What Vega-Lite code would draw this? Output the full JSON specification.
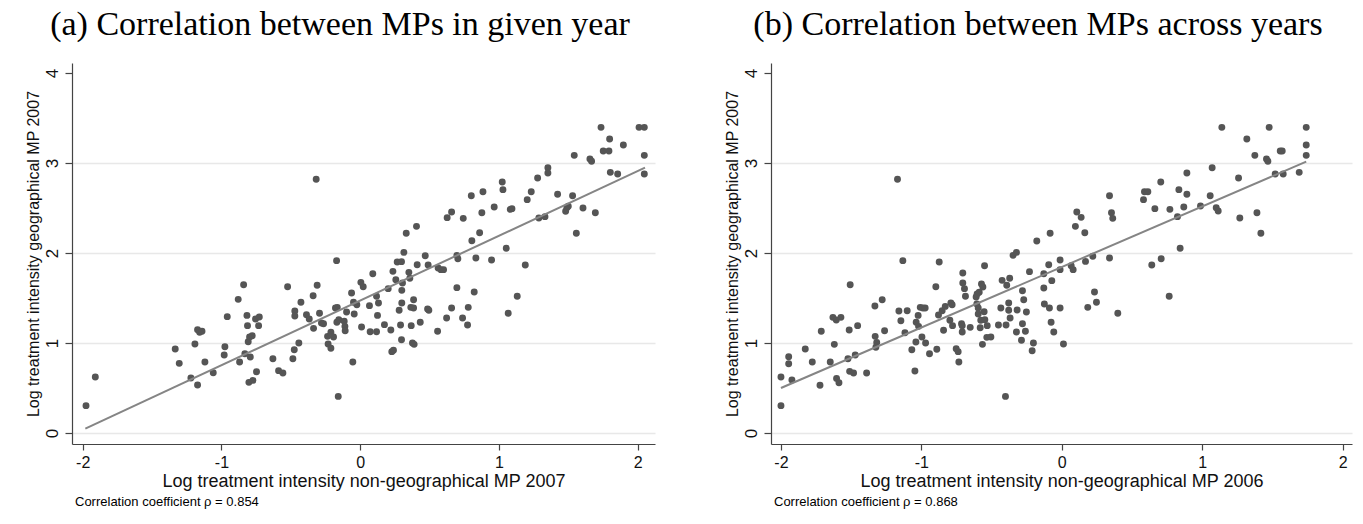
{
  "$schema": "https://vega.github.io/schema/vega-lite/v6.json",
  "background": "white",
  "padding": {"left": 25, "top": 8, "right": 5, "bottom": 5},
  "spacing": 69,
  "config": {
    "view": {"stroke": null},
    "axis": {
      "labelFont": "Liberation Sans", "titleFont": "Liberation Sans",
      "titleFontWeight": "normal",
      "labelColor": "#111", "titleColor": "#111",
      "domainColor": "#444", "tickColor": "#444", "domainWidth": 1.2, "tickWidth": 1.2
    },
    "axisX": {"grid": false, "tickSize": 6, "labelPadding": 4, "titlePadding": 2, "labelFontSize": 16, "titleFontSize": 18},
    "axisY": {"grid": true, "gridColor": "#e8e8e8", "gridWidth": 1.5, "tickSize": 7, "labelAngle": 270, "labelAlign": "center", "labelBaseline": "bottom", "labelPadding": 4, "titlePadding": 2, "labelFontSize": 17, "titleFontSize": 16}
  },
  "hconcat": [
    {
      "title": {"text": "(a) Correlation between MPs in given year", "font": "Liberation Serif", "fontSize": 34, "fontWeight": "normal", "color": "#000", "anchor": "middle", "frame": "bounds", "offset": 21},
      "vconcat": [
        {
          "width": 583, "height": 381,
          "title": {"text": "Correlation coefficient ρ = 0.854", "orient": "bottom", "anchor": "start", "frame": "group", "font": "Liberation Sans", "fontSize": 13, "fontWeight": "normal", "color": "#000", "offset": 6, "dx": 3},
          "layer": [
            {
              "data": {"name": "a"},
              "mark": {"type": "circle", "size": 48, "color": "#555555", "opacity": 1},
              "encoding": {
                "x": {"field": "x", "type": "quantitative", "scale": {"domain": [-2.077, 2.125], "nice": false, "zero": false}, "axis": {"values": [-2, -1, 0, 1, 2], "labelExpr": "'' + datum.value", "title": "Log treatment intensity non-geographical MP 2007"}},
                "y": {"field": "y", "type": "quantitative", "scale": {"domain": [-0.122, 4.111], "nice": false, "zero": false}, "axis": {"values": [0, 1, 2, 3, 4], "labelExpr": "'' + datum.value", "gridOpacity": {"condition": {"test": "datum.value == 4", "value": 0}, "value": 1}, "title": "Log treatment intensity geographical MP 2007"}}
              }
            },
            {
              "data": {"name": "fitA"},
              "mark": {"type": "line", "color": "#858585", "strokeWidth": 2},
              "encoding": {"x": {"field": "x", "type": "quantitative"}, "y": {"field": "y", "type": "quantitative"}}
            }
          ]
        }
      ]
    },
    {
      "title": {"text": "(b) Correlation between MPs across years", "font": "Liberation Serif", "fontSize": 34, "fontWeight": "normal", "color": "#000", "anchor": "middle", "frame": "bounds", "offset": 21},
      "vconcat": [
        {
          "width": 581, "height": 381,
          "title": {"text": "Correlation coefficient ρ = 0.868", "orient": "bottom", "anchor": "start", "frame": "group", "font": "Liberation Sans", "fontSize": 13, "fontWeight": "normal", "color": "#000", "offset": 6, "dx": 3},
          "layer": [
            {
              "data": {"name": "b"},
              "mark": {"type": "circle", "size": 48, "color": "#555555", "opacity": 1},
              "encoding": {
                "x": {"field": "x", "type": "quantitative", "scale": {"domain": [-2.071, 2.067], "nice": false, "zero": false}, "axis": {"values": [-2, -1, 0, 1, 2], "labelExpr": "'' + datum.value", "title": "Log treatment intensity non-geographical MP 2006"}},
                "y": {"field": "y", "type": "quantitative", "scale": {"domain": [-0.122, 4.111], "nice": false, "zero": false}, "axis": {"values": [0, 1, 2, 3, 4], "labelExpr": "'' + datum.value", "gridOpacity": {"condition": {"test": "datum.value == 4", "value": 0}, "value": 1}, "title": "Log treatment intensity geographical MP 2007"}}
              }
            },
            {
              "data": {"name": "fitB"},
              "mark": {"type": "line", "color": "#858585", "strokeWidth": 2},
              "encoding": {"x": {"field": "x", "type": "quantitative"}, "y": {"field": "y", "type": "quantitative"}}
            }
          ]
        }
      ]
    }
  ],
  "datasets": {
    "fitA": [{"x": -1.981, "y": 0.048}, {"x": 2.053, "y": 2.948}],
    "fitB": [{"x": -2.0, "y": 0.5}, {"x": 1.741, "y": 3.015}],
    "a": [
      {"x": -1.976, "y": 0.304}, {"x": -1.909, "y": 0.622}, {"x": -1.333, "y": 0.933}, {"x": -1.304, "y": 0.774}, {"x": -1.22, "y": 0.611}, {"x": -1.191, "y": 0.989}, {"x": -1.172, "y": 0.533}, {"x": -1.172, "y": 1.148}, {"x": -1.157, "y": 1.119}, {"x": -1.14, "y": 1.13}, {"x": -1.119, "y": 0.789}, {"x": -1.059, "y": 0.67}, {"x": -0.98, "y": 0.867}, {"x": -0.975, "y": 0.959}, {"x": -0.958, "y": 1.293}, {"x": -0.879, "y": 1.485}, {"x": -0.869, "y": 0.789}, {"x": -0.84, "y": 1.648}, {"x": -0.831, "y": 0.881}, {"x": -0.816, "y": 1.307}, {"x": -0.812, "y": 1.193}, {"x": -0.807, "y": 1.015}, {"x": -0.797, "y": 1.067}, {"x": -0.792, "y": 0.844}, {"x": -0.778, "y": 1.081}, {"x": -0.802, "y": 0.563}, {"x": -0.773, "y": 0.585}, {"x": -0.754, "y": 1.267}, {"x": -0.727, "y": 1.289}, {"x": -0.732, "y": 1.193}, {"x": -0.747, "y": 0.681}, {"x": -0.629, "y": 0.826}, {"x": -0.588, "y": 0.693}, {"x": -0.557, "y": 0.667}, {"x": -0.523, "y": 1.626}, {"x": -0.485, "y": 0.826}, {"x": -0.475, "y": 0.926}, {"x": -0.471, "y": 1.356}, {"x": -0.471, "y": 1.3}, {"x": -0.442, "y": 1.0}, {"x": -0.427, "y": 1.452}, {"x": -0.387, "y": 1.315}, {"x": -0.367, "y": 1.267}, {"x": -0.339, "y": 1.526}, {"x": -0.336, "y": 1.163}, {"x": -0.317, "y": 2.819}, {"x": -0.31, "y": 1.641}, {"x": -0.293, "y": 1.33}, {"x": -0.279, "y": 1.222}, {"x": -0.264, "y": 1.215}, {"x": -0.235, "y": 1.074}, {"x": -0.231, "y": 0.989}, {"x": -0.211, "y": 0.941}, {"x": -0.211, "y": 1.119}, {"x": -0.192, "y": 1.067}, {"x": -0.17, "y": 1.915}, {"x": -0.178, "y": 1.389}, {"x": -0.165, "y": 1.396}, {"x": -0.168, "y": 1.23}, {"x": -0.158, "y": 0.407}, {"x": -0.154, "y": 1.259}, {"x": -0.115, "y": 1.241}, {"x": -0.11, "y": 1.185}, {"x": -0.108, "y": 1.137}, {"x": -0.098, "y": 1.344}, {"x": -0.053, "y": 0.789}, {"x": -0.048, "y": 1.452}, {"x": -0.043, "y": 1.322}, {"x": -0.062, "y": 1.556}, {"x": -0.024, "y": 1.426},
      {"x": 0.01, "y": 1.178}, {"x": 0.022, "y": 1.626}, {"x": 0.005, "y": 1.674}, {"x": 0.067, "y": 1.415}, {"x": 0.072, "y": 1.126}, {"x": 0.091, "y": 1.77}, {"x": 0.118, "y": 1.126}, {"x": 0.118, "y": 1.519}, {"x": 0.125, "y": 1.307}, {"x": 0.132, "y": 1.444}, {"x": 0.175, "y": 1.204}, {"x": 0.202, "y": 1.604}, {"x": 0.221, "y": 1.144}, {"x": 0.228, "y": 0.904}, {"x": 0.24, "y": 0.919}, {"x": 0.236, "y": 1.796}, {"x": 0.257, "y": 1.704}, {"x": 0.267, "y": 1.9}, {"x": 0.298, "y": 1.904}, {"x": 0.281, "y": 1.363}, {"x": 0.291, "y": 1.2}, {"x": 0.298, "y": 1.037}, {"x": 0.3, "y": 1.585}, {"x": 0.3, "y": 1.444}, {"x": 0.305, "y": 1.667}, {"x": 0.315, "y": 2.007}, {"x": 0.332, "y": 2.219}, {"x": 0.351, "y": 1.785}, {"x": 0.358, "y": 1.719}, {"x": 0.365, "y": 1.396}, {"x": 0.385, "y": 1.389}, {"x": 0.368, "y": 1.193}, {"x": 0.377, "y": 1.0}, {"x": 0.389, "y": 0.985}, {"x": 0.385, "y": 1.481}, {"x": 0.406, "y": 2.296}, {"x": 0.411, "y": 1.87}, {"x": 0.433, "y": 1.23}, {"x": 0.469, "y": 1.97}, {"x": 0.486, "y": 1.378}, {"x": 0.495, "y": 1.363}, {"x": 0.49, "y": 1.867}, {"x": 0.558, "y": 1.13}, {"x": 0.562, "y": 1.833}, {"x": 0.582, "y": 1.815}, {"x": 0.601, "y": 1.815}, {"x": 0.623, "y": 1.278}, {"x": 0.627, "y": 2.393}, {"x": 0.659, "y": 2.456}, {"x": 0.659, "y": 1.389}, {"x": 0.697, "y": 1.615}, {"x": 0.704, "y": 1.937}, {"x": 0.697, "y": 1.974}, {"x": 0.738, "y": 1.278}, {"x": 0.743, "y": 2.385}, {"x": 0.779, "y": 1.396}, {"x": 0.774, "y": 1.2}, {"x": 0.801, "y": 2.637}, {"x": 0.805, "y": 2.137}, {"x": 0.822, "y": 1.567}, {"x": 0.834, "y": 1.944}, {"x": 0.861, "y": 2.226}, {"x": 0.877, "y": 2.448}, {"x": 0.885, "y": 2.681}, {"x": 0.947, "y": 1.922}, {"x": 0.966, "y": 2.511}, {"x": 1.024, "y": 2.789}, {"x": 1.029, "y": 2.704}, {"x": 1.053, "y": 2.052}, {"x": 1.067, "y": 1.33}, {"x": 1.082, "y": 2.485}, {"x": 1.094, "y": 2.493}, {"x": 1.132, "y": 1.519}, {"x": 1.19, "y": 1.867}, {"x": 1.204, "y": 2.593}, {"x": 1.233, "y": 2.681}, {"x": 1.279, "y": 2.833}, {"x": 1.288, "y": 2.389}, {"x": 1.332, "y": 2.404}, {"x": 1.353, "y": 2.948}, {"x": 1.353, "y": 2.889}, {"x": 1.423, "y": 2.652}, {"x": 1.481, "y": 2.463}, {"x": 1.49, "y": 2.504}, {"x": 1.5, "y": 2.519}, {"x": 1.531, "y": 2.637}, {"x": 1.543, "y": 3.085}, {"x": 1.558, "y": 2.219}, {"x": 1.606, "y": 2.5}, {"x": 1.656, "y": 3.044}, {"x": 1.668, "y": 3.019}, {"x": 1.695, "y": 2.448}, {"x": 1.736, "y": 3.396}, {"x": 1.752, "y": 3.133}, {"x": 1.793, "y": 3.133}, {"x": 1.798, "y": 3.267}, {"x": 1.803, "y": 2.896}, {"x": 1.856, "y": 2.878}, {"x": 1.897, "y": 3.2}, {"x": 2.01, "y": 3.396}, {"x": 2.048, "y": 3.396}, {"x": 2.048, "y": 3.085}, {"x": 2.048, "y": 2.878}
    ],
    "b": [
      {"x": -2.0, "y": 0.622}, {"x": -2.0, "y": 0.304}, {"x": -1.945, "y": 0.848}, {"x": -1.945, "y": 0.77}, {"x": -1.922, "y": 0.589}, {"x": -1.827, "y": 0.933}, {"x": -1.777, "y": 0.789}, {"x": -1.722, "y": 0.53}, {"x": -1.713, "y": 1.13}, {"x": -1.649, "y": 0.789}, {"x": -1.63, "y": 1.285}, {"x": -1.606, "y": 1.256}, {"x": -1.573, "y": 1.285}, {"x": -1.62, "y": 0.985}, {"x": -1.604, "y": 0.607}, {"x": -1.587, "y": 0.559}, {"x": -1.523, "y": 0.826}, {"x": -1.514, "y": 1.144}, {"x": -1.507, "y": 1.648}, {"x": -1.511, "y": 0.685}, {"x": -1.483, "y": 0.667}, {"x": -1.471, "y": 0.867}, {"x": -1.454, "y": 1.193}, {"x": -1.39, "y": 0.667}, {"x": -1.331, "y": 1.411}, {"x": -1.329, "y": 1.074}, {"x": -1.318, "y": 1.007}, {"x": -1.324, "y": 0.952}, {"x": -1.279, "y": 1.481}, {"x": -1.262, "y": 1.137}, {"x": -1.17, "y": 2.819}, {"x": -1.16, "y": 1.356}, {"x": -1.146, "y": 1.248}, {"x": -1.132, "y": 1.915}, {"x": -1.117, "y": 1.115}, {"x": -1.101, "y": 1.359}, {"x": -1.068, "y": 0.926}, {"x": -1.046, "y": 0.689}, {"x": -1.037, "y": 1.23}, {"x": -1.023, "y": 1.307}, {"x": -1.02, "y": 1.185}, {"x": -1.039, "y": 1.011}, {"x": -1.008, "y": 1.396}, {"x": -0.989, "y": 1.389}, {"x": -0.973, "y": 1.389}, {"x": -0.996, "y": 1.067}, {"x": -0.97, "y": 1.0}, {"x": -0.942, "y": 0.881}, {"x": -0.897, "y": 1.626}, {"x": -0.89, "y": 0.93}, {"x": -0.878, "y": 1.311}, {"x": -0.873, "y": 1.9}, {"x": -0.852, "y": 1.359}, {"x": -0.83, "y": 1.407}, {"x": -0.842, "y": 1.141}, {"x": -0.79, "y": 1.444}, {"x": -0.781, "y": 1.426}, {"x": -0.797, "y": 1.252}, {"x": -0.778, "y": 1.193}, {"x": -0.752, "y": 0.937}, {"x": -0.733, "y": 0.789}, {"x": -0.738, "y": 0.904}, {"x": -0.714, "y": 1.215}, {"x": -0.705, "y": 1.778}, {"x": -0.705, "y": 1.667}, {"x": -0.693, "y": 1.604}, {"x": -0.686, "y": 1.519}, {"x": -0.709, "y": 1.122}, {"x": -0.709, "y": 1.193}, {"x": -0.652, "y": 1.174}, {"x": -0.61, "y": 1.511}, {"x": -0.603, "y": 1.544}, {"x": -0.605, "y": 1.433}, {"x": -0.595, "y": 1.389}, {"x": -0.595, "y": 1.322}, {"x": -0.588, "y": 1.563}, {"x": -0.581, "y": 1.17}, {"x": -0.577, "y": 1.252}, {"x": -0.572, "y": 1.656}, {"x": -0.562, "y": 1.622}, {"x": -0.565, "y": 0.985}, {"x": -0.553, "y": 1.348}, {"x": -0.55, "y": 1.859}, {"x": -0.548, "y": 1.259}, {"x": -0.531, "y": 1.193}, {"x": -0.534, "y": 1.063}, {"x": -0.505, "y": 1.067}, {"x": -0.451, "y": 1.2}, {"x": -0.434, "y": 1.389}, {"x": -0.425, "y": 1.696}, {"x": -0.397, "y": 1.2}, {"x": -0.401, "y": 0.407}, {"x": -0.392, "y": 1.641}, {"x": -0.378, "y": 1.444}, {"x": -0.378, "y": 1.363}, {"x": -0.371, "y": 1.719}, {"x": -0.368, "y": 1.278},
      {"x": -0.347, "y": 1.974}, {"x": -0.323, "y": 2.007}, {"x": -0.318, "y": 1.367}, {"x": -0.323, "y": 1.122}, {"x": -0.28, "y": 1.215}, {"x": -0.287, "y": 1.03}, {"x": -0.271, "y": 1.481}, {"x": -0.28, "y": 1.581}, {"x": -0.252, "y": 1.344}, {"x": -0.259, "y": 1.13}, {"x": -0.23, "y": 1.793}, {"x": -0.211, "y": 0.915}, {"x": -0.202, "y": 1.0}, {"x": -0.178, "y": 2.133}, {"x": -0.128, "y": 1.77}, {"x": -0.128, "y": 1.611}, {"x": -0.124, "y": 1.433}, {"x": -0.093, "y": 1.87}, {"x": -0.088, "y": 1.389}, {"x": -0.083, "y": 2.219}, {"x": -0.071, "y": 1.693}, {"x": -0.076, "y": 1.23}, {"x": -0.057, "y": 1.122}, {"x": -0.012, "y": 1.922}, {"x": -0.012, "y": 1.815}, {"x": -0.012, "y": 1.389}, {"x": 0.012, "y": 0.989}, {"x": 0.067, "y": 1.859}, {"x": 0.081, "y": 1.815}, {"x": 0.097, "y": 2.296}, {"x": 0.107, "y": 2.456}, {"x": 0.138, "y": 2.396}, {"x": 0.164, "y": 2.226}, {"x": 0.169, "y": 1.907}, {"x": 0.185, "y": 1.396}, {"x": 0.221, "y": 1.963}, {"x": 0.233, "y": 1.567}, {"x": 0.247, "y": 1.452}, {"x": 0.34, "y": 2.637}, {"x": 0.34, "y": 1.944}, {"x": 0.354, "y": 2.448}, {"x": 0.363, "y": 2.385}, {"x": 0.399, "y": 1.33}, {"x": 0.582, "y": 2.593}, {"x": 0.589, "y": 2.681}, {"x": 0.613, "y": 2.681}, {"x": 0.641, "y": 1.867}, {"x": 0.663, "y": 2.493}, {"x": 0.705, "y": 2.789}, {"x": 0.708, "y": 1.937}, {"x": 0.765, "y": 1.519}, {"x": 0.77, "y": 2.485}, {"x": 0.824, "y": 2.404}, {"x": 0.834, "y": 2.704}, {"x": 0.843, "y": 2.052}, {"x": 0.869, "y": 2.511}, {"x": 0.891, "y": 2.652}, {"x": 0.891, "y": 2.889}, {"x": 0.988, "y": 2.522}, {"x": 1.057, "y": 2.637}, {"x": 1.071, "y": 2.948}, {"x": 1.1, "y": 2.504}, {"x": 1.114, "y": 2.467}, {"x": 1.14, "y": 3.396}, {"x": 1.259, "y": 2.833}, {"x": 1.268, "y": 2.389}, {"x": 1.318, "y": 3.267}, {"x": 1.375, "y": 3.085}, {"x": 1.39, "y": 2.448}, {"x": 1.418, "y": 2.219}, {"x": 1.458, "y": 3.044}, {"x": 1.468, "y": 3.019}, {"x": 1.477, "y": 3.396}, {"x": 1.52, "y": 2.878}, {"x": 1.556, "y": 3.133}, {"x": 1.57, "y": 3.133}, {"x": 1.577, "y": 2.878}, {"x": 1.691, "y": 2.896}, {"x": 1.741, "y": 3.396}, {"x": 1.741, "y": 3.2}, {"x": 1.741, "y": 3.085}
    ]
  }
}
